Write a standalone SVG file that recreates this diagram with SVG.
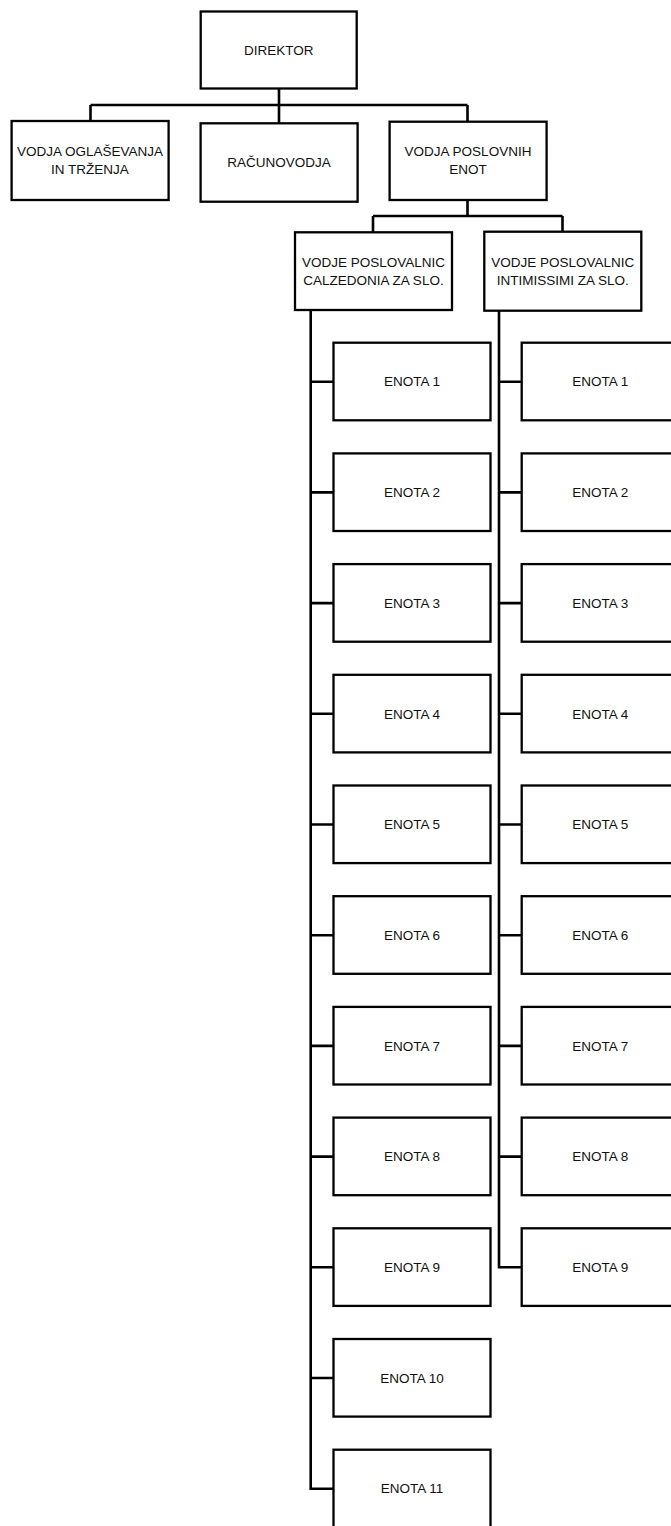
<svg xmlns="http://www.w3.org/2000/svg" width="671" height="1526" viewBox="0 0 671 1526">
<style>
.box{fill:#fff;stroke:#000;stroke-width:2.3}
.t{font-family:"Liberation Sans",Arial,sans-serif;font-size:13.5px;fill:#111;text-anchor:middle}
.c{fill:none;stroke:#000;stroke-width:2.6;stroke-linejoin:miter;stroke-linecap:butt}
</style>
<rect width="671" height="1526" fill="#fff"/>
<g id="connectors">
<path class="c" d="M279 88.5V105M90.5 105H467.5M90.5 105V121M279 105V123M467.5 105V121.5"/>
<path class="c" d="M467.5 200V216M373 216H562.5M373 216V232M562.5 216V232"/>
<path class="c" d="M310.7 310V1488.7H333.5"/>
<path class="c" d="M310.7 381.7H333.5M310.7 492.4H333.5M310.7 603.1H333.5M310.7 713.8H333.5M310.7 824.5H333.5M310.7 935.2H333.5M310.7 1045.9H333.5M310.7 1156.6H333.5M310.7 1267.3H333.5M310.7 1378H333.5"/>
<path class="c" d="M499 310.5V1267.3H521.7"/>
<path class="c" d="M499 381.7H521.7M499 492.4H521.7M499 603.1H521.7M499 713.8H521.7M499 824.5H521.7M499 935.2H521.7M499 1045.9H521.7M499 1156.6H521.7"/>
</g>
<g id="director"><rect class="box" x="200.7" y="11.5" width="156" height="77"/><text class="t" x="278.7" y="54.8">DIREKTOR</text></g>
<g id="oglasevanje"><rect class="box" x="11.6" y="121" width="157" height="79"/><text class="t" x="90" y="156">VODJA OGLAŠEVANJA</text><text class="t" x="90" y="174">IN TRŽENJA</text></g>
<g id="racunovodja"><rect class="box" x="200.6" y="123.3" width="157" height="78.4"/><text class="t" x="279" y="167">RAČUNOVODJA</text></g>
<g id="poslovne-enote"><rect class="box" x="389.6" y="121.7" width="157" height="78.3"/><text class="t" x="468" y="156">VODJA POSLOVNIH</text><text class="t" x="468" y="174">ENOT</text></g>
<g id="calzedonia"><rect class="box" x="295" y="232.3" width="157" height="77.7"/><text class="t" x="373.5" y="266.7">VODJE POSLOVALNIC</text><text class="t" x="373.5" y="284.7">CALZEDONIA ZA SLO.</text></g>
<g id="intimissimi"><rect class="box" x="484.3" y="231.7" width="157" height="79"/><text class="t" x="562.8" y="266.7">VODJE POSLOVALNIC</text><text class="t" x="562.8" y="284.7">INTIMISSIMI ZA SLO.</text></g>
<g id="cal-enota-1"><rect class="box" x="333.5" y="342.7" width="157" height="77.6"/><text class="t" x="412" y="386.4">ENOTA 1</text></g>
<g id="cal-enota-2"><rect class="box" x="333.5" y="453.4" width="157" height="77.6"/><text class="t" x="412" y="497.1">ENOTA 2</text></g>
<g id="cal-enota-3"><rect class="box" x="333.5" y="564.1" width="157" height="77.6"/><text class="t" x="412" y="607.8">ENOTA 3</text></g>
<g id="cal-enota-4"><rect class="box" x="333.5" y="674.8" width="157" height="77.6"/><text class="t" x="412" y="718.5">ENOTA 4</text></g>
<g id="cal-enota-5"><rect class="box" x="333.5" y="785.5" width="157" height="77.6"/><text class="t" x="412" y="829.2">ENOTA 5</text></g>
<g id="cal-enota-6"><rect class="box" x="333.5" y="896.2" width="157" height="77.6"/><text class="t" x="412" y="939.9">ENOTA 6</text></g>
<g id="cal-enota-7"><rect class="box" x="333.5" y="1006.9" width="157" height="77.6"/><text class="t" x="412" y="1050.6">ENOTA 7</text></g>
<g id="cal-enota-8"><rect class="box" x="333.5" y="1117.6" width="157" height="77.6"/><text class="t" x="412" y="1161.3">ENOTA 8</text></g>
<g id="cal-enota-9"><rect class="box" x="333.5" y="1228.3" width="157" height="77.6"/><text class="t" x="412" y="1272">ENOTA 9</text></g>
<g id="cal-enota-10"><rect class="box" x="333.5" y="1339" width="157" height="77.6"/><text class="t" x="412" y="1382.7">ENOTA 10</text></g>
<g id="cal-enota-11"><rect class="box" x="333.5" y="1449.7" width="157" height="77.6"/><text class="t" x="412" y="1493.4">ENOTA 11</text></g>
<g id="int-enota-1"><rect class="box" x="521.7" y="342.7" width="157" height="77.6"/><text class="t" x="600.2" y="386.4">ENOTA 1</text></g>
<g id="int-enota-2"><rect class="box" x="521.7" y="453.4" width="157" height="77.6"/><text class="t" x="600.2" y="497.1">ENOTA 2</text></g>
<g id="int-enota-3"><rect class="box" x="521.7" y="564.1" width="157" height="77.6"/><text class="t" x="600.2" y="607.8">ENOTA 3</text></g>
<g id="int-enota-4"><rect class="box" x="521.7" y="674.8" width="157" height="77.6"/><text class="t" x="600.2" y="718.5">ENOTA 4</text></g>
<g id="int-enota-5"><rect class="box" x="521.7" y="785.5" width="157" height="77.6"/><text class="t" x="600.2" y="829.2">ENOTA 5</text></g>
<g id="int-enota-6"><rect class="box" x="521.7" y="896.2" width="157" height="77.6"/><text class="t" x="600.2" y="939.9">ENOTA 6</text></g>
<g id="int-enota-7"><rect class="box" x="521.7" y="1006.9" width="157" height="77.6"/><text class="t" x="600.2" y="1050.6">ENOTA 7</text></g>
<g id="int-enota-8"><rect class="box" x="521.7" y="1117.6" width="157" height="77.6"/><text class="t" x="600.2" y="1161.3">ENOTA 8</text></g>
<g id="int-enota-9"><rect class="box" x="521.7" y="1228.3" width="157" height="77.6"/><text class="t" x="600.2" y="1272">ENOTA 9</text></g>
</svg>
